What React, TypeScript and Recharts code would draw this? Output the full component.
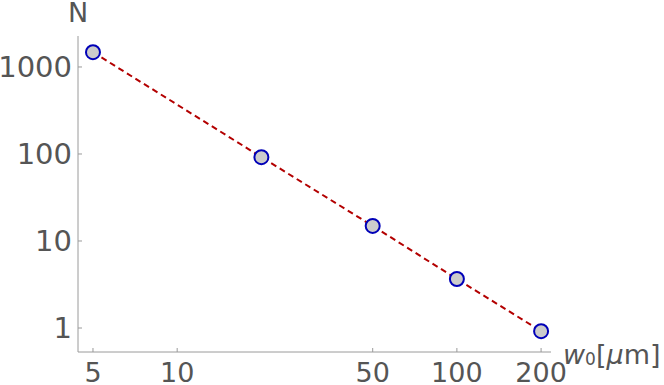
import React from 'react';
import { ComposedChart, Line, Scatter, XAxis, YAxis } from 'recharts';

// beam waist w0 in µm vs. count N (log-log)
const waistValues = [5, 20, 50, 100, 200];
const countValues = [1480, 92, 14.9, 3.66, 0.92];
const xTicks = [5, 10, 50, 100, 200];
const yTicks = [1, 10, 100, 1000];

const data = waistValues.map((w, i) => ({ w, n: countValues[i] }));

const AXIS = '#9a9a9a';
const TEXT = '#555555';
const FONT = '"DejaVu Sans", sans-serif';

const YTick = (props: any) => {
  const { x, y, payload } = props;
  const ax = x + 6;
  return (
    <g>
      <line x1={ax} x2={ax + 4} y1={y} y2={y} stroke={AXIS} strokeWidth={1} />
      <text x={x} y={y} dy={10} textAnchor="end" fill={TEXT} fontSize={29} fontFamily={FONT}>
        {payload.value}
      </text>
    </g>
  );
};

const XTick = (props: any) => {
  const { x, y, payload } = props;
  return (
    <g>
      <line x1={x} x2={x} y1={y} y2={y - 4} stroke={AXIS} strokeWidth={1} />
      <text x={x} y={y} dy={30} textAnchor="middle" fill={TEXT} fontSize={27} fontFamily={FONT}>
        {payload.value}
      </text>
    </g>
  );
};

const XLabel = (props: any) => {
  const { viewBox } = props;
  const x = viewBox.x + viewBox.width + 12;
  return (
    <text x={x} y={364} fill={TEXT} fontSize={27} fontFamily={FONT}>
      <tspan fontStyle="italic">w</tspan>
      <tspan fontSize={17} dy={1}>0</tspan>
      <tspan dy={-1}>[</tspan>
      <tspan fontStyle="italic">μ</tspan>
      <tspan>m]</tspan>
    </text>
  );
};

const YLabel = (props: any) => {
  const { viewBox } = props;
  return (
    <text x={viewBox.x + viewBox.width} y={22} textAnchor="middle" fill={TEXT} fontSize={27} fontFamily={FONT}>
      N
    </text>
  );
};

const Dot = (props: any) => {
  const { cx, cy } = props;
  return <circle cx={cx} cy={cy} r={7} fill="#cccccc" stroke="#0000b8" strokeWidth={2} />;
};

export default function App() {
  return (
    <div style={{ position: 'absolute', left: 0, top: 0, background: '#fff' }}>
      <ComposedChart
        width={664}
        height={385}
        data={data}
        margin={{ top: 36, right: 113, left: 0, bottom: 0 }}
      >
        <XAxis
          dataKey="w"
          type="number"
          scale="log"
          domain={[4.42, 217]}
          allowDataOverflow
          ticks={xTicks}
          tick={<XTick />}
          tickLine={false}
          tickSize={0}
          tickMargin={0}
          height={33}
          stroke={AXIS}
          label={<XLabel />}
        />
        <YAxis
          dataKey="n"
          type="number"
          scale="log"
          domain={[0.53, 2270]}
          allowDataOverflow
          ticks={yTicks}
          tick={<YTick />}
          tickLine={false}
          tickSize={0}
          tickMargin={6}
          width={78}
          stroke={AXIS}
          label={<YLabel />}
        />
        <Scatter dataKey="n" shape={<Dot />} isAnimationActive={false} />
        <Line
          dataKey="n"
          type="linear"
          stroke="#b30000"
          strokeWidth={2}
          strokeDasharray="6 4"
          dot={false}
          activeDot={false}
          isAnimationActive={false}
        />
      </ComposedChart>
    </div>
  );
}
